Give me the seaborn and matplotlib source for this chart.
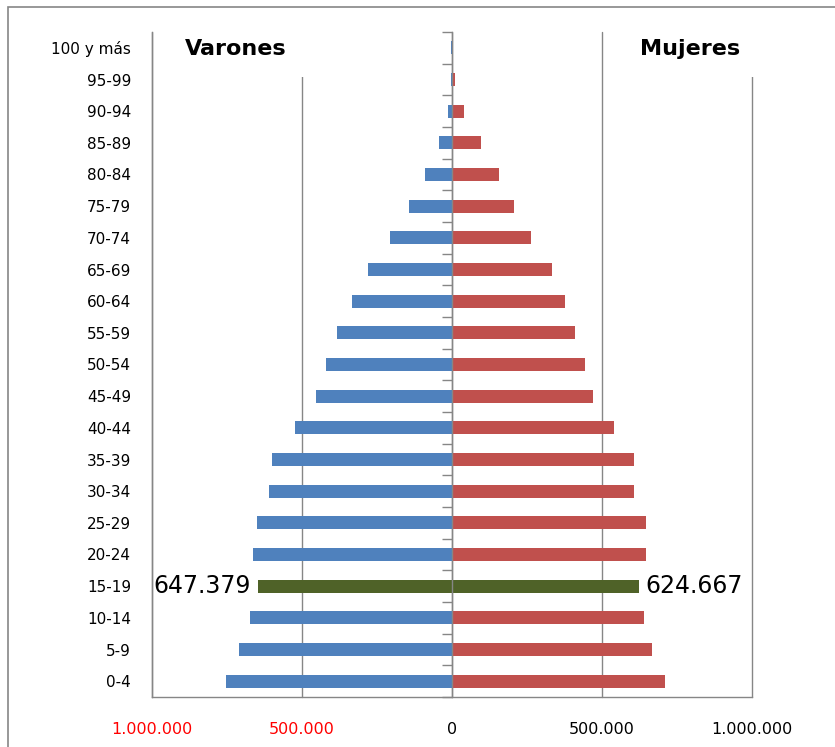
import numpy as np
import pandas as pd
import seaborn as sns
import matplotlib.pyplot as plt
from matplotlib.ticker import FuncFormatter

grupos = ["100 y más", "95-99", "90-94", "85-89", "80-84", "75-79", "70-74",
          "65-69", "60-64", "55-59", "50-54", "45-49", "40-44", "35-39",
          "30-34", "25-29", "20-24", "15-19", "10-14", "5-9", "0-4"]
varones = [5000, 5000, 14000, 43000, 91000, 142000, 207000, 279000, 334000,
           383000, 421000, 455000, 525000, 599000, 609000, 650000, 664000,
           647379, 674000, 711000, 755000]
mujeres = [1500, 11000, 40000, 95000, 156000, 208000, 263000, 332000, 376000,
           410000, 442000, 471000, 539000, 607000, 607000, 645000, 647000,
           624667, 640000, 668000, 711000]
destacado = "15-19"
ticks_x = [-1000000, -500000, 0, 500000, 1000000]

azul = "#4F81BD"
rojo = "#C0504D"
verde = "#4F6228"
gris = "#868686"

sns.set_style("white")
plt.rcParams['font.family'] = ['DejaVu Sans']
plt.rcParams['text.color'] = 'black'
plt.rcParams['xtick.color'] = 'black'
plt.rcParams['ytick.color'] = 'black'

df_v = pd.DataFrame({'grupo': grupos, 'valor': [-v for v in varones]})
df_m = pd.DataFrame({'grupo': grupos, 'valor': mujeres})
pal_v = [verde if g == destacado else azul for g in grupos]
pal_m = [verde if g == destacado else rojo for g in grupos]

fig = plt.figure(figsize=(8.35, 7.47), dpi=100)
ax = fig.add_axes([152 / 835, 1 - 697 / 747, 600 / 835, 665 / 747])

sns.barplot(data=df_v, x='valor', y='grupo', hue='grupo', palette=pal_v,
            legend=False, width=0.42, linewidth=0, saturation=1, orient='h', ax=ax)
sns.barplot(data=df_m, x='valor', y='grupo', hue='grupo', palette=pal_m,
            legend=False, width=0.42, linewidth=0, saturation=1, orient='h', ax=ax)

ax.set_xlim(-1000000, 1000000)
ax.set_ylim(len(grupos) - 0.5, -0.5)
ax.set_xlabel('')
ax.set_ylabel('')

# ejes y rejilla
ax.set_axisbelow(True)
ax.set_xticks(ticks_x)
ax.grid(axis='x', color=gris, linewidth=1)
ax.grid(axis='y', visible=False)
for linea in ax.get_xgridlines():
    linea.set_clip_on(False)
ax.xaxis.set_major_formatter(FuncFormatter(lambda v, p: f"{abs(v):,.0f}".replace(',', '.')))
ax.tick_params(axis='x', direction='out', length=5, color=gris, width=1,
               labelsize=11.5, pad=13, labelcolor='black')
for lab, v in zip(ax.get_xticklabels(), ticks_x):
    lab.set_color('red' if v < 0 else 'black')

ax.spines['top'].set_visible(False)
for s in ['left', 'bottom', 'right']:
    ax.spines[s].set_color(gris)
    ax.spines[s].set_linewidth(1)
ax.spines['right'].set_position(('data', 0))

ax.set_yticks(np.arange(-0.5, len(grupos), 1), minor=True)
ax.tick_params(axis='y', which='major', length=0, pad=15, labelsize=11,
               left=False, right=False, labelleft=True, labelright=False,
               labelcolor='black')
ax.tick_params(axis='y', which='minor', left=False, right=True, direction='in',
               length=7, color=gris, width=1)

# etiquetas de datos del grupo destacado
i = grupos.index(destacado)
ax.annotate(f"{varones[i]:,}".replace(',', '.'), xy=(-varones[i], i), xytext=(-5, 0),
            textcoords='offset points', ha='right', va='center', fontsize=17,
            color='black')
ax.annotate(f"{mujeres[i]:,}".replace(',', '.'), xy=(mujeres[i], i), xytext=(4, 0),
            textcoords='offset points', ha='left', va='center', fontsize=17,
            color='black')

# titulos
caja = dict(facecolor='white', edgecolor='none', pad=13)
ax.text(-720000, 0.05, 'Varones', ha='center', va='center', fontsize=16,
        fontweight='bold', bbox=caja, zorder=5, color='black')
ax.text(793000, 0.05, 'Mujeres', ha='center', va='center', fontsize=16,
        fontweight='bold', bbox=caja, zorder=5, color='black')

# marco exterior
fig.patches.append(plt.Rectangle((7.5 / 835, -0.2), 1.2, 1.2 - 6.7 / 747,
                                 transform=fig.transFigure, fill=False,
                                 edgecolor=gris, linewidth=1.2))

fig.savefig('out.png', dpi=100)
